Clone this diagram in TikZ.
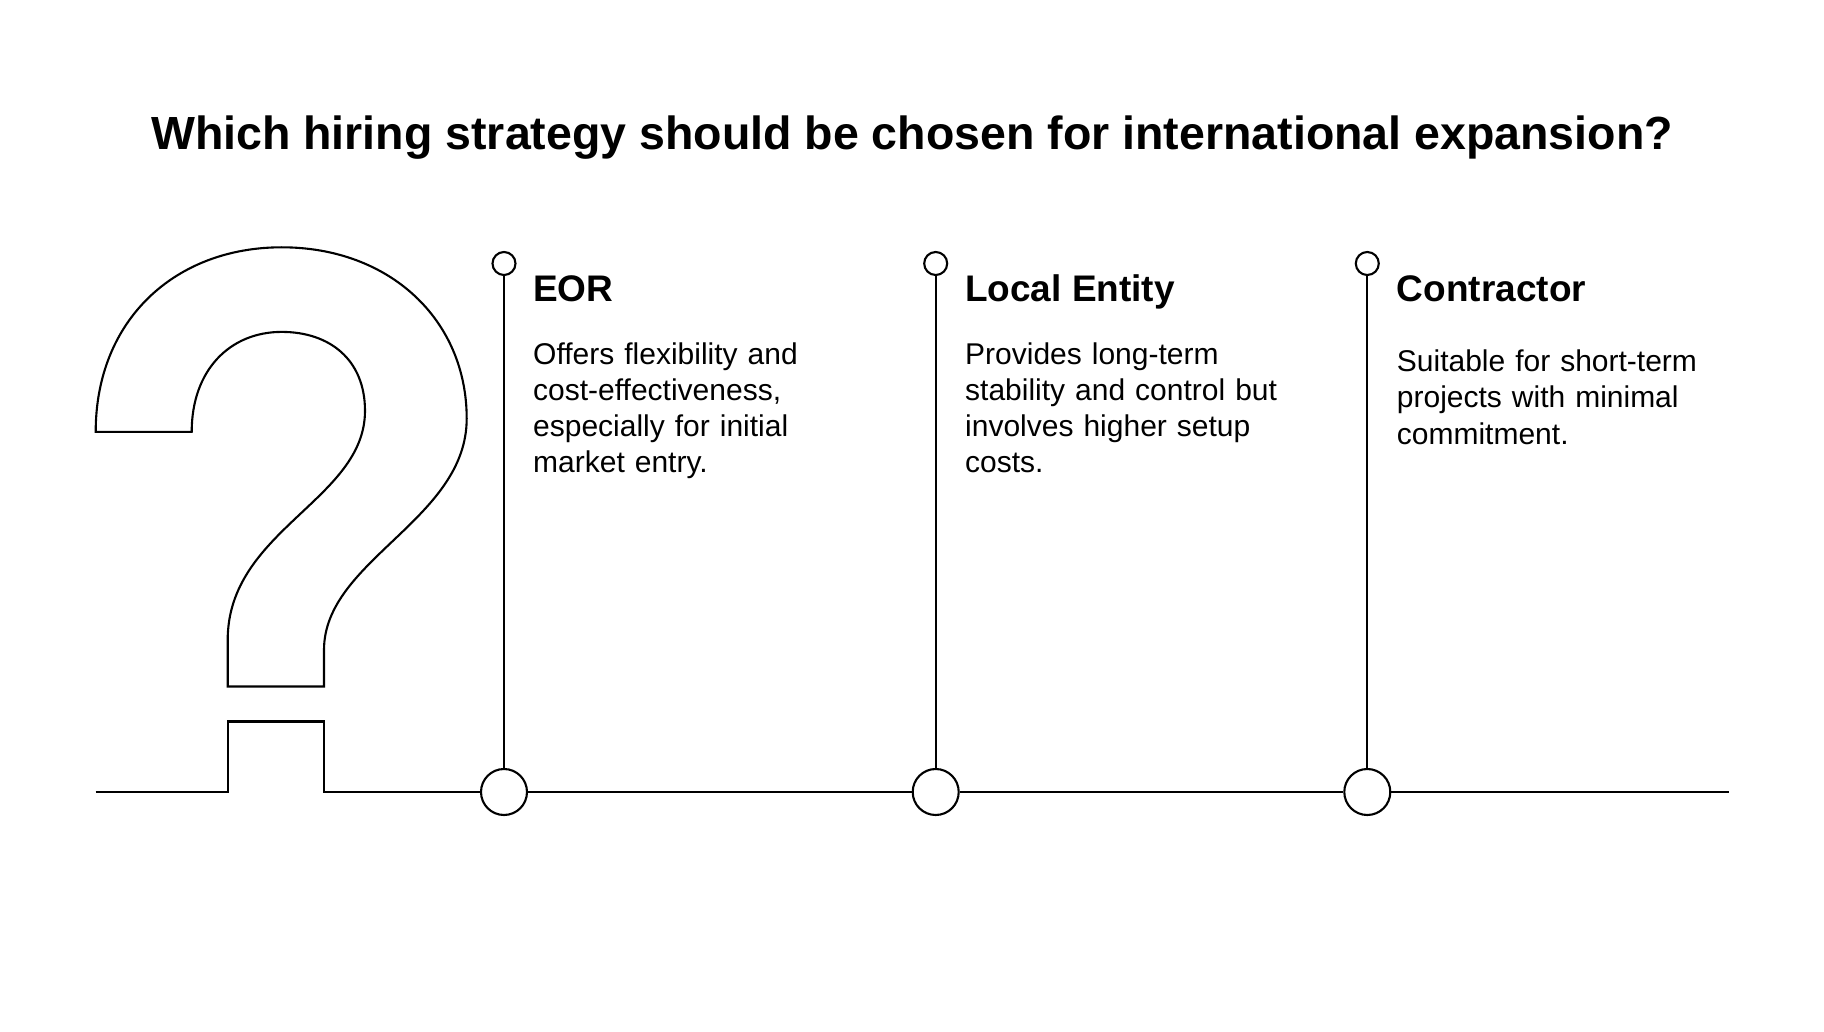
\documentclass[tikz,border=0pt]{standalone}
\usepackage{fontspec}
\setmainfont{Liberation Sans}
\begin{document}
\begin{tikzpicture}[x=1pt,y=-1pt,
  ln/.style={line width=2.1pt,black},
  bigdot/.style={circle,draw,line width=2.1pt,fill=white,minimum size=46pt,inner sep=0pt},
  smalldot/.style={circle,draw,line width=2.1pt,fill=white,minimum size=23pt,inner sep=0pt},
  head/.style={anchor=base west,inner sep=0pt,font=\fontsize{37}{44}\selectfont\bfseries},
  body/.style={anchor=base west,inner sep=0pt,align=left,text width=330pt,font=\fontsize{30}{36.3}\selectfont}]
\useasboundingbox[fill=white] (0,0) rectangle (1824,1032);

% title
\node[anchor=base,inner sep=0pt,font=\fontsize{46.5}{56}\selectfont\bfseries] (title) at (912,150)
  {Which hiring strategy should be chosen for international expansion?};

% question mark outline
\draw[ln,line join=miter] (95.7,431.9)
  .. controls (95.7,320) and (175,247.3) .. (281.7,247.3)
  .. controls (390,247.3) and (466.7,320) .. (466.7,418.5)
  .. controls (466.7,520) and (324,560) .. (324,650)
  -- (324,686.5) -- (227.7,686.5) -- (227.7,640)
  .. controls (227.7,530) and (365,500) .. (365,410.8)
  .. controls (365,360) and (330,331.9) .. (281.7,331.9)
  .. controls (230,331.9) and (191.7,370) .. (191.7,431.9)
  -- cycle;

% baseline with the dot of the question mark
\coordinate (bl) at (95.7,792);
\coordinate (br) at (1729,792);
\node[bigdot] (b1) at (504,792) {};
\node[bigdot] (b2) at (935.7,792) {};
\node[bigdot] (b3) at (1367.3,792) {};
\draw[ln,line join=miter] (bl) -- (227.7,792) -- (227.7,721.5) -- (324,721.5) -- (324,792) -- (b1.west);
\draw[ln] (b1.east) -- (b2.west);
\draw[ln] (b2.east) -- (b3.west);
\draw[ln] (b3.east) -- (br);

% columns
\node[smalldot] (s1) at (504,263.5) {};
\node[smalldot] (s2) at (935.7,263.5) {};
\node[smalldot] (s3) at (1367.3,263.5) {};
\draw[ln] (s1) -- (b1);
\draw[ln] (s2) -- (b2);
\draw[ln] (s3) -- (b3);

\node[head] (h1) at (533,302) {EOR};
\node[head] (h2) at (965,302) {Local Entity};
\node[head] (h3) at (1396.7,302) {Contractor};

\node[body] (t1) at (533,364) {Offers flexibility and\\cost-effectiveness,\\especially for initial\\market entry.};
\node[body] (t2) at (965,364) {Provides long-term\\stability and control but\\involves higher setup\\costs.};
\node[body] (t3) at (1396.7,371.5) {Suitable for short-term\\projects with minimal\\commitment.};
\end{tikzpicture}
\end{document}
